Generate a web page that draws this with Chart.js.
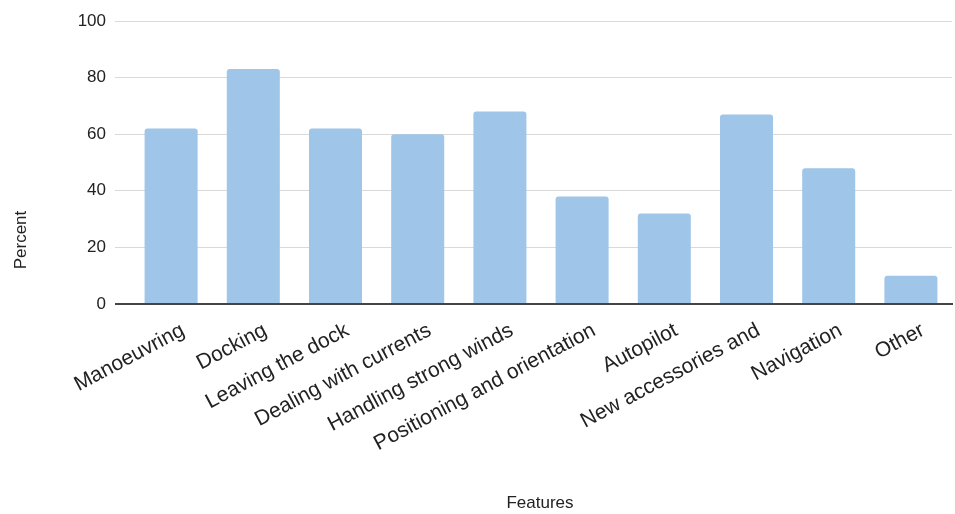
<!DOCTYPE html>
<html>
<head>
<meta charset="utf-8">
<script src="https://cdn.jsdelivr.net/npm/chart.js@4.4.1/dist/chart.umd.min.js"></script>
<style>
  html, body { margin: 0; padding: 0; background: #ffffff; }
  #wrap { width: 955px; height: 514px; position: relative; }
</style>
</head>
<body>
<div id="wrap"><canvas id="chart"></canvas></div>
<script>
// Share of respondents wanting help with each feature
const categories = [
  'Manoeuvring', 'Docking', 'Leaving the dock', 'Dealing with currents',
  'Handling strong winds', 'Positioning and orientation', 'Autopilot',
  'New accessories and', 'Navigation', 'Other'
];
const percentValues = [62, 83, 62, 60, 68, 38, 32, 67, 48, 10];
const yTickValues = [0, 20, 40, 60, 80, 100];
const xAxisTitle = 'Features';
const yAxisTitle = 'Percent';

const FONT = '"Liberation Sans", Arial, sans-serif';
const GRID = '#d9d9d9';
const BASE = '#444444';
const isZero = ctx => ctx.tick && ctx.tick.value === 0;

// Axis titles placed relative to the whole canvas
const axisTitles = {
  id: 'axisTitles',
  afterDraw(chart) {
    const ctx = chart.ctx;
    ctx.save();
    ctx.fillStyle = '#222222';
    ctx.font = '17px ' + FONT;
    ctx.textAlign = 'center';
    ctx.textBaseline = 'middle';
    ctx.fillText(xAxisTitle, 540, 503);
    ctx.translate(21, 240);
    ctx.rotate(-Math.PI / 2);
    ctx.fillText(yAxisTitle, 0, 0);
    ctx.restore();
  }
};

new Chart(document.getElementById('chart'), {
  type: 'bar',
  data: {
    labels: categories,
    datasets: [{
      data: percentValues,
      backgroundColor: '#9fc5e8',
      borderRadius: { topLeft: 3, topRight: 3 },
      borderSkipped: 'bottom',
      categoryPercentage: 1,
      barPercentage: 0.645
    }]
  },
  options: {
    responsive: true,
    maintainAspectRatio: false,
    animation: false,
    layout: { padding: { top: 21, right: 3, left: 0, bottom: 0 } },
    plugins: {
      legend: { display: false },
      tooltip: { enabled: false }
    },
    scales: {
      x: {
        z: 1,
        grid: { display: false, drawTicks: false },
        border: { display: true, color: BASE, width: 2 },
        afterFit(scale) { scale.height = 210; },
        ticks: {
          autoSkip: false,
          maxRotation: 28,
          minRotation: 28,
          padding: 14,
          labelOffset: 12,
          color: '#222222',
          font: { family: FONT, size: 21 }
        }
      },
      y: {
        min: 0,
        max: 100,
        afterFit(scale) { scale.width = 130; },
        afterBuildTicks(scale) { scale.ticks = yTickValues.map(v => ({ value: v })); },
        grid: {
          color: ctx => (isZero(ctx) ? BASE : GRID),
          lineWidth: ctx => (isZero(ctx) ? 2 : 1),
          drawTicks: true,
          tickLength: 15,
          tickColor: ctx => (isZero(ctx) ? BASE : GRID),
          tickWidth: ctx => (isZero(ctx) ? 2 : 1)
        },
        border: { display: false },
        ticks: {
          padding: 9,
          color: '#222222',
          font: { family: FONT, size: 17 }
        }
      }
    }
  },
  plugins: [axisTitles]
});
</script>
</body>
</html>
